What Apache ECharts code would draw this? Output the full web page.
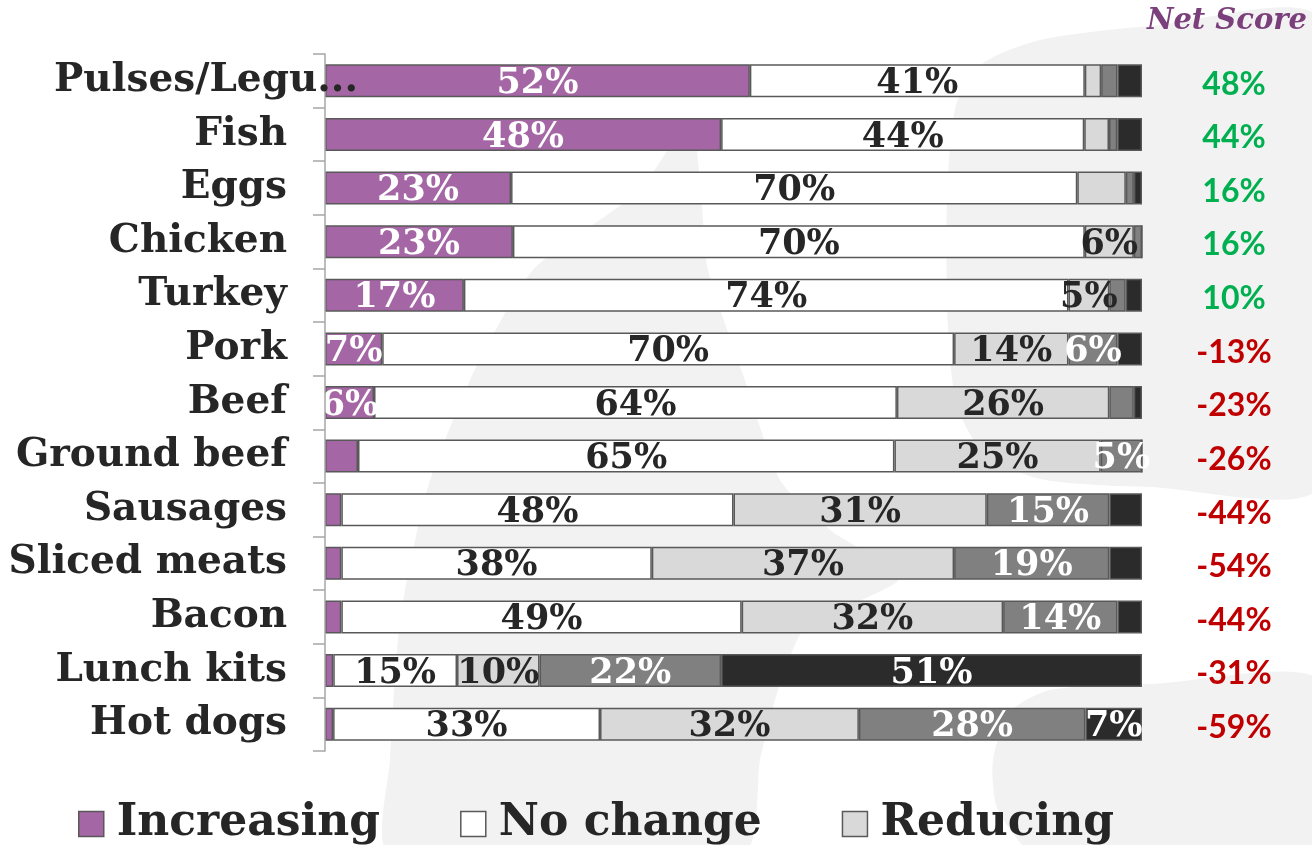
<!DOCTYPE html>
<html>
<head>
<meta charset="utf-8">
<script src="https://cdn.jsdelivr.net/npm/echarts@6/dist/echarts.min.js"></script>
<style>
  html, body { margin: 0; padding: 0; background: #ffffff; }
  #chart { width: 1312px; height: 845px; }
</style>
</head>
<body>
<div id="chart"></div>
<script>
// Food categories, top to bottom
const categories = ['Pulses/Legumes', 'Fish', 'Eggs', 'Chicken', 'Turkey', 'Pork', 'Beef',
  'Ground beef', 'Sausages', 'Sliced meats', 'Bacon', 'Lunch kits', 'Hot dogs'];

// Share of respondents (%) per consumption intention
const increasing = [52, 48, 23, 23, 17, 7, 6, 4, 2, 2, 2, 1, 1];
const noChange   = [41, 44, 70, 70, 74, 70, 64, 65, 48, 38, 49, 15, 33];
const reducing   = [2, 3, 6, 6, 5, 14, 26, 25, 31, 37, 32, 10, 32];
const stopped    = [2, 1, 1, 1, 2, 6, 3, 5, 15, 19, 14, 22, 28];
const dontEat    = [3, 3, 1, 0, 2, 3, 1, 0, 4, 4, 3, 51, 7];

// Net score = increasing - (reducing + stopped)
const netScore = [48, 44, 16, 16, 10, -13, -23, -26, -44, -54, -44, -31, -59];

const seriesNames = ['Increasing', 'No change', 'Reducing', 'Stopped', "Don't eat"];
const seriesValues = [increasing, noChange, reducing, stopped, dontEat];
const seriesColors = ['#A466A4', '#FFFFFF', '#D9D9D9', '#808080', '#2B2B2B'];
const labelColors = ['#FFFFFF', '#262626', '#262626', '#FFFFFF', '#FFFFFF'];

// Segments narrower than this carry no value label
const minLabelled = 5;
const unlabelled = [['Eggs', 'Reducing']];

const rowTotals = categories.map((_, i) =>
  seriesValues.reduce((s, arr) => s + arr[i], 0));

const serifFont = '"DejaVu Serif", "Liberation Serif", serif';

const series = seriesNames.map((name, k) => ({
  name: name,
  type: 'bar',
  stack: 'total',
  yAxisIndex: 0,
  barWidth: 33,
  itemStyle: { color: seriesColors[k], borderColor: '#595959', borderWidth: 1.5 },
  label: {
    show: true,
    position: 'inside',
    offset: [0, 3],
    color: labelColors[k],
    fontFamily: serifFont,
    fontWeight: 'bold',
    fontSize: 35,
    formatter: p => seriesValues[k][p.dataIndex] + '%'
  },
  emphasis: { disabled: true },
  data: categories.map((cat, i) => {
    const v = seriesValues[k][i];
    const hidden = v < minLabelled ||
      unlabelled.some(u => u[0] === cat && u[1] === name);
    return { value: v / rowTotals[i] * 100, label: { show: !hidden } };
  })
}));

const chart = echarts.init(document.getElementById('chart'), null, { renderer: 'canvas' });

chart.setOption({
  animation: false,
  backgroundColor: '#FFFFFF',
  title: {
    text: 'Net Score',
    right: 0,
    top: 2,
    textStyle: {
      fontFamily: serifFont,
      fontStyle: 'italic',
      fontWeight: 'bold',
      fontSize: 29,
      color: '#7B3F7B'
    }
  },
  graphic: {
    elements: [
      {
        type: 'polygon', z: -10, silent: true,
        shape: {
          smooth: 0.25,
          points: [[1320, 20], [1150, 26], [1040, 40], [982, 64], [956, 105], [947, 200],
                   [948, 330], [957, 405], [983, 452], [1040, 479], [1150, 487], [1320, 485]]
        },
        style: { fill: '#F2F2F2' }
      },
      {
        type: 'polygon', z: -10, silent: true,
        shape: {
          smooth: 0.25,
          points: [[1320, 680], [1150, 684], [1050, 690], [1010, 712], [993, 760],
                   [996, 805], [1012, 832], [1030, 850], [1320, 850]]
        },
        style: { fill: '#F2F2F2' }
      },
      {
        type: 'polygon', z: -10, silent: true,
        shape: {
          smooth: 0.2,
          points: [[690, 120], [640, 190], [533, 270], [470, 380], [427, 490], [400, 620],
                   [390, 760], [388, 850], [745, 850], [760, 760], [778, 690], [805, 628],
                   [900, 578], [830, 530], [780, 480], [745, 380], [708, 270], [700, 180]]
        },
        style: { fill: '#F2F2F2' }
      }
    ]
  },
  legend: {
    left: 73,
    top: 797,
    width: 1100,
    icon: 'rect',
    itemWidth: 25,
    itemHeight: 25,
    itemGap: 80,
    selectedMode: false,
    itemStyle: { borderColor: '#595959', borderWidth: 1.5 },
    textStyle: {
      fontFamily: serifFont,
      fontWeight: 'bold',
      fontSize: 44,
      lineHeight: 44,
      color: '#262626',
      padding: [0, 0, 0, 8]
    },
    data: seriesNames
  },
  grid: {
    left: 325,
    right: 170,
    top: 54,
    bottom: 94,
    containLabel: false
  },
  xAxis: {
    type: 'value',
    min: 0,
    max: 100,
    show: false
  },
  yAxis: [
    {
      type: 'category',
      inverse: true,
      data: categories,
      z: 10,
      axisLine: { show: true, lineStyle: { color: '#A6A6A6', width: 1.5 } },
      axisTick: { show: true, length: 12, lineStyle: { color: '#A6A6A6', width: 1.5 } },
      axisLabel: {
        margin: -33,
        width: 335,
        overflow: 'truncate',
        ellipsis: '...',
        color: '#262626',
        fontFamily: serifFont,
        fontWeight: 'bold',
        fontSize: 39,
        formatter: (v, i) => i === 0 ? '{lead|' + v + '}' : '{name|' + v + '}',
        rich: {
          lead: {
            fontFamily: serifFont, fontWeight: 'bold', fontSize: 39, color: '#262626'
          },
          name: {
            fontFamily: serifFont, fontWeight: 'bold', fontSize: 39, color: '#262626',
            padding: [0, 71, 0, 0]
          }
        }
      }
    },
    {
      type: 'category',
      inverse: true,
      position: 'right',
      data: categories,
      axisLine: { show: false },
      axisTick: { show: false },
      axisLabel: {
        margin: 92,
        align: 'center',
        formatter: (v, i) => {
          const s = netScore[i];
          return s >= 0 ? '{pos|' + s + '%}' : '{neg|' + s + '%}';
        },
        rich: {
          pos: { color: '#00B050', fontFamily: 'Lato, "Open Sans", sans-serif', fontWeight: 'bold', fontSize: 32, padding: [7, 0, 0, 0] },
          neg: { color: '#C00000', fontFamily: 'Lato, "Open Sans", sans-serif', fontWeight: 'bold', fontSize: 32, padding: [7, 0, 0, 0] }
        }
      }
    }
  ],
  series: series
});
</script>
</body>
</html>
